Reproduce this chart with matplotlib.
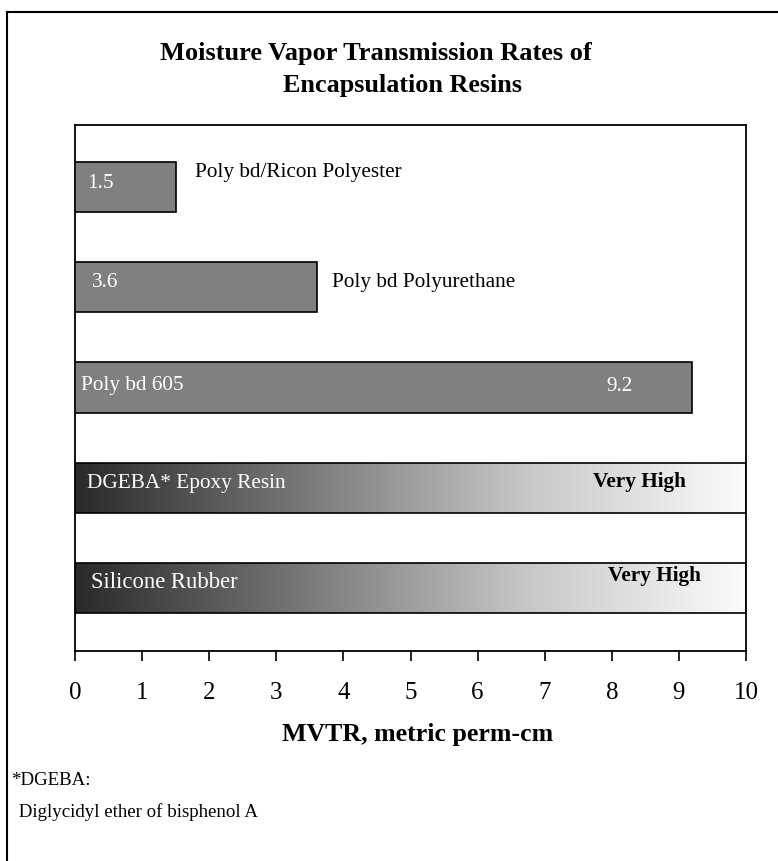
import numpy as np
import matplotlib
matplotlib.use("Agg")
import matplotlib.pyplot as plt
from matplotlib.lines import Line2D

plt.rcParams['font.family'] = ['Liberation Serif', 'DejaVu Serif']

# ---- data ----
resins = ["Poly bd/Ricon Polyester", "Poly bd Polyurethane", "Poly bd 605",
          "DGEBA* Epoxy Resin", "Silicone Rubber"]
mvtr = [1.5, 3.6, 9.2, np.nan, np.nan]          # NaN = "Very High" (off scale)
value_labels = ["1.5", "3.6", "9.2", "Very High", "Very High"]
x_ticks = list(range(0, 11))
title_lines = ["Moisture Vapor Transmission Rates of", "Encapsulation Resins"]
x_label = "MVTR, metric perm-cm"
footnote = ["*DGEBA:", " Diglycidyl ether of bisphenol A"]

W, H = 778, 861
fig = plt.figure(figsize=(W / 100, H / 100), dpi=100)
fig.patch.set_facecolor('white')

def fx(px):
    return px / W

def fy(py):
    return 1 - py / H

ax = fig.add_axes([fx(75), fy(651), fx(746) - fx(75), fy(125) - fy(651)])
xmin, xmax = 0, 10
ax.set_xlim(xmin, xmax)
ax.set_ylim(4.63, -0.62)

ypos = np.arange(len(resins))
bar_h = 0.5
lw = 1.2

for i, (name, v) in enumerate(zip(resins, mvtr)):
    if np.isnan(v):
        bar = ax.barh(ypos[i], xmax, height=bar_h, color='none',
                      edgecolor='black', linewidth=lw, zorder=3)[0]
        grad = np.linspace(0, 1, 256).reshape(1, -1)
        im = ax.imshow(grad, cmap=matplotlib.colors.LinearSegmentedColormap.from_list(
            'g', ['#2a2a2a', '#777777', '#c6c6c6', '#fbfbfb']),
            extent=[0, xmax, ypos[i] + bar_h / 2, ypos[i] - bar_h / 2],
            aspect='auto', zorder=2, interpolation='bilinear')
        im.set_clip_path(bar)
    else:
        ax.barh(ypos[i], v, height=bar_h, color='#808080',
                edgecolor='black', linewidth=lw, zorder=3)

fs_in = 15.3
# bar 0
ax.text(0.18, ypos[0] + 0.01, value_labels[0], color='white', fontsize=fs_in, va='baseline', zorder=5)
ax.text(1.79, ypos[0] - 0.10, resins[0], color='black', fontsize=fs_in, va='baseline', zorder=5)
# bar 1
ax.text(0.25, ypos[1] + 0.0, value_labels[1], color='white', fontsize=fs_in, va='baseline', zorder=5)
ax.text(3.83, ypos[1] + 0.0, resins[1], color='black', fontsize=fs_in, va='baseline', zorder=5)
# bar 2
ax.text(0.09, ypos[2] + 0.02, resins[2], color='white', fontsize=fs_in, va='baseline', zorder=5)
ax.text(8.11, ypos[2] + 0.03, value_labels[2], color='white', fontsize=fs_in, va='baseline', ha='center', zorder=5)
# bar 3
ax.text(0.18, ypos[3] + 0.0, resins[3], color='white', fontsize=fs_in, va='baseline', zorder=5)
ax.text(7.72, ypos[3] - 0.01, value_labels[3], color='black', fontsize=fs_in, fontweight='bold', va='baseline', zorder=5)
# bar 4
ax.text(0.24, ypos[4] + 0.0, resins[4], color='white', fontsize=fs_in + 1, va='baseline', zorder=5)
ax.text(7.94, ypos[4] - 0.065, value_labels[4], color='black', fontsize=fs_in, fontweight='bold', va='baseline', zorder=5)

ax.set_yticks([])
ax.set_xticks(x_ticks)
ax.set_xticklabels([str(t) for t in x_ticks], fontsize=18)
ax.tick_params(axis='x', direction='out', length=7, width=1.2, pad=15, colors='black')
for s in ax.spines.values():
    s.set_linewidth(1.3)
    s.set_color('black')
ax.set_xlabel(x_label, fontsize=18.6, fontweight='bold')
ax.xaxis.set_label_coords((418 - 75) / 671, -(737 + 4 - 651) / (651 - 125), transform=ax.transAxes)
ax.xaxis.label.set_va('baseline')

# title
fig.text(fx(160), fy(60), title_lines[0], fontsize=19, fontweight='bold', ha='left', va='baseline')
fig.text(fx(283), fy(92), title_lines[1], fontsize=18.8, fontweight='bold', ha='left', va='baseline')

# footnote
fig.text(fx(11), fy(785), footnote[0], fontsize=13.6, ha='left', va='baseline')
fig.text(fx(14), fy(817), footnote[1], fontsize=13.6, ha='left', va='baseline')

# outer frame (left and top)
fig.add_artist(Line2D([fx(7), fx(7)], [fy(12), 0], transform=fig.transFigure, color='black', lw=1.5))
fig.add_artist(Line2D([fx(7), 1], [fy(12), fy(12)], transform=fig.transFigure, color='black', lw=1.5))

fig.savefig('out.png', dpi=100)
